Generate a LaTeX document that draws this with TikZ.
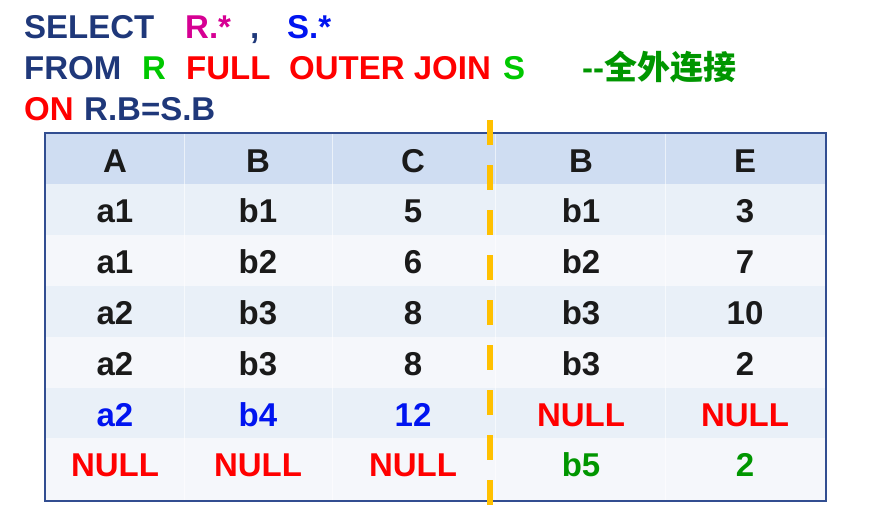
\documentclass[tikz,border=0pt]{standalone}
\definecolor{navy}{RGB}{31,56,122}
\definecolor{magenta}{RGB}{214,0,147}
\definecolor{sblue}{RGB}{0,20,240}
\definecolor{lgreen}{RGB}{0,200,0}
\definecolor{dgreen}{RGB}{0,150,0}
\definecolor{sred}{RGB}{255,0,0}
\definecolor{ink}{RGB}{26,26,26}
\definecolor{headfill}{RGB}{207,221,242}
\definecolor{rowdark}{RGB}{233,240,248}
\definecolor{rowlight}{RGB}{245,247,251}
\definecolor{frame}{RGB}{50,78,145}
\definecolor{amber}{RGB}{255,192,0}
\usepackage{fontspec}
\setmainfont{Liberation Sans}
\newfontfamily\cjk{Noto Sans CJK SC}
\usepackage{tikz}

\begin{document}
\begin{tikzpicture}[x=1pt,y=-1pt,node distance=50.8pt,
    sql/.style={anchor=base west, inner sep=0pt, font=\fontsize{33}{40}\selectfont\bfseries},
    cell/.style={inner sep=0pt, text height=24pt, text depth=0pt, text=ink,
      font=\fontsize{33}{40}\selectfont\bfseries}]
      \useasboundingbox (0,0) rectangle (891,511);
      % query
      \node[sql, text=navy]    (sel)   at (24,39)  {SELECT};
      \node[sql, text=magenta] (rall)  at (185,39) {R.*};
      \node[sql, text=navy]    (comma) at (250,39) {,};
      \node[sql, text=sblue]   (sall)  at (287,39) {S.*};
      \node[sql, text=navy]    (from)  at (24,80)  {FROM};
      \node[sql, text=lgreen]  (rel)   at (142,80) {R};
      \node[sql, text=sred]    (full)  at (186,80) {FULL};
      \node[sql, text=sred]    (outer) at (289,80) {OUTER JOIN};
      \node[sql, text=lgreen]  (srel)  at (503,80) {S};
      \node[sql, text=dgreen]  (note)  at (582,80) {-\kern0pt-{\cjk 全外连接}};
      \node[sql, text=sred]    (on)    at (24,120) {ON};
      \node[sql, text=navy]    (cond)  at (84,120) {R.B=S.B};
      % table background
      \fill[headfill] (45,133) rectangle (826,184);
      \fill[rowdark]  (45,184) rectangle (826,235);
      \fill[rowlight] (45,235) rectangle (826,286);
      \fill[rowdark]  (45,286) rectangle (826,337);
      \fill[rowlight] (45,337) rectangle (826,388);
      \fill[rowdark]  (45,388) rectangle (826,438);
      \fill[rowlight] (45,438) rectangle (826,501);
      \draw[white, opacity=0.6] (184,133) -- (184,501);
      \draw[white, opacity=0.6] (332,133) -- (332,501);
      \draw[white, opacity=0.6] (495,133) -- (495,501);
      \draw[white, opacity=0.6] (665,133) -- (665,501);
      \draw[frame, line width=1.5pt] (45,133) rectangle (826,501);
      % column A
      \node[cell] (hA) at (115,160) {A};
      \node[cell, below of=hA] (A1) {a1};
      \node[cell, below of=A1] (A2) {a1};
      \node[cell, below of=A2] (A3) {a2};
      \node[cell, below of=A3] (A4) {a2};
      \node[cell, below of=A4, text=sblue] (A5) {a2};
      \node[cell, below of=A5, text=sred]  (A6) {NULL};
      % column B
      \node[cell] (hB) at (258,160) {B};
      \node[cell, below of=hB] (B1) {b1};
      \node[cell, below of=B1] (B2) {b2};
      \node[cell, below of=B2] (B3) {b3};
      \node[cell, below of=B3] (B4) {b3};
      \node[cell, below of=B4, text=sblue] (B5) {b4};
      \node[cell, below of=B5, text=sred]  (B6) {NULL};
      % column C
      \node[cell] (hC) at (413,160) {C};
      \node[cell, below of=hC] (C1) {5};
      \node[cell, below of=C1] (C2) {6};
      \node[cell, below of=C2] (C3) {8};
      \node[cell, below of=C3] (C4) {8};
      \node[cell, below of=C4, text=sblue] (C5) {12};
      \node[cell, below of=C5, text=sred]  (C6) {NULL};
      % column S.B
      \node[cell] (hD) at (581,160) {B};
      \node[cell, below of=hD] (D1) {b1};
      \node[cell, below of=D1] (D2) {b2};
      \node[cell, below of=D2] (D3) {b3};
      \node[cell, below of=D3] (D4) {b3};
      \node[cell, below of=D4, text=sred]   (D5) {NULL};
      \node[cell, below of=D5, text=dgreen] (D6) {b5};
      % column E
      \node[cell] (hE) at (745,160) {E};
      \node[cell, below of=hE] (E1) {3};
      \node[cell, below of=E1] (E2) {7};
      \node[cell, below of=E2] (E3) {10};
      \node[cell, below of=E3] (E4) {2};
      \node[cell, below of=E4, text=sred]   (E5) {NULL};
      \node[cell, below of=E5, text=dgreen] (E6) {2};
      % split line
      \coordinate (cuttop) at (490,120);
      \coordinate (cutbot) at (490,505);
      \draw[amber, line width=5.5pt, dash pattern=on 25pt off 20pt] (cuttop) -- (cutbot);
    \end{tikzpicture}
\end{document}
